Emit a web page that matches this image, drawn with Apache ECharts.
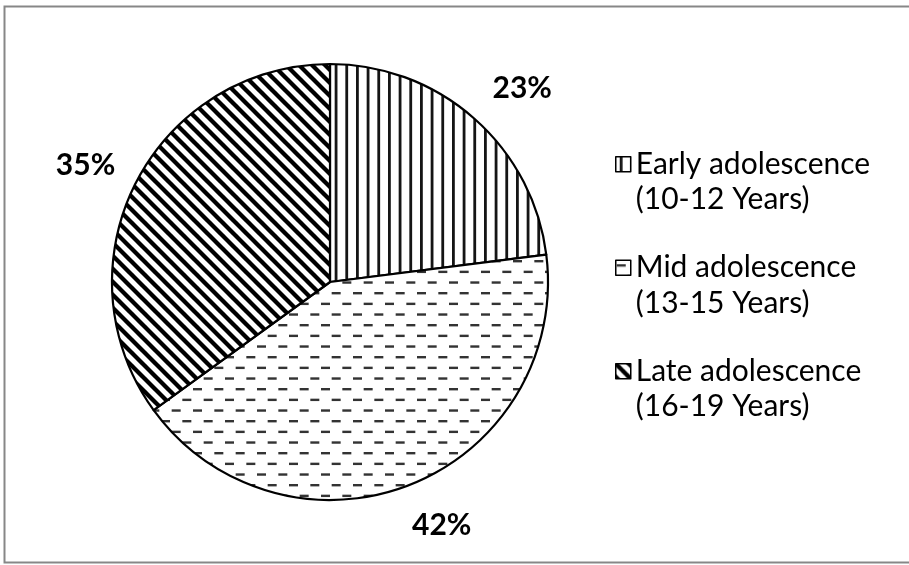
<!DOCTYPE html>
<html>
  <head>
    <meta charset="utf-8" />
    <title>Adolescence groups</title>
    <script src="https://cdn.jsdelivr.net/npm/echarts@6/dist/echarts.min.js"></script>
    <style>
      html, body { margin: 0; padding: 0; background: #fff; }
    </style>
  </head>
  <body>
    <div id="main" style="width: 909px;height:565px;"></div>

    <script type="text/javascript">
      // data
      var groups = ['Early adolescence\n(10-12 Years)', 'Mid adolescence\n(13-15 Years)', 'Late adolescence\n(16-19 Years)'];
      var values = [23, 42, 35];

      var cx = 330, cy = 282, radius = 218, labelR = 271;
      // small nudges so the % labels sit where the office "best fit" put them
      var labelNudge = [[13, 10], [12, -9], [-3, 6]];

      // hatch fills, like the office patterns
      function makeVert() {
        var c = document.createElement('canvas');
        c.width = 32; c.height = 32;
        var g = c.getContext('2d');
        g.fillStyle = '#fff'; g.fillRect(0, 0, 32, 32);
        g.fillStyle = '#151515';
        for (var i = 0; i < 3; i++) {
          g.fillRect(i * 32 / 3 + 4, 0, 2.8, 32);
        }
        return c;
      }
      function makeDash() {
        var c = document.createElement('canvas');
        c.width = 64; c.height = 64;
        var g = c.getContext('2d');
        g.fillStyle = '#fff'; g.fillRect(0, 0, 64, 64);
        g.fillStyle = '#333';
        var step = 64 / 3, row = 64 / 6;
        for (var i = 0; i < 6; i++) {
          var off = (i % 2) * step / 2;
          for (var j = 0; j < 3; j++) {
            g.fillRect(off + j * step + 1, i * row + 4, 9, 2.4);
          }
        }
        return c;
      }
      function makeDiag() {
        var s = 13;
        var c = document.createElement('canvas');
        c.width = s; c.height = s;
        var g = c.getContext('2d');
        g.fillStyle = '#fff'; g.fillRect(0, 0, s, s);
        g.strokeStyle = '#000';
        g.lineWidth = 4.3;
        for (var k = -1; k <= 1; k++) {
          g.beginPath();
          g.moveTo(k * s - 2, -2);
          g.lineTo(k * s + s + 2, s + 2);
          g.stroke();
        }
        return c;
      }

      var fills = [makeVert(), makeDash(), makeDiag()];
      var total = values.reduce(function (a, b) { return a + b; }, 0);

      var myPie = echarts.init(document.getElementById('main'));

      var option = {
        animation: false,
        graphic: [{
          type: 'rect',
          shape: { x: 4.5, y: 6.5, width: 920, height: 556 },
          style: { fill: 'none', stroke: '#878787', lineWidth: 2 },
          silent: true
        }],
        legend: {
          orient: 'vertical',
          left: 610,
          top: 106,
          icon: 'rect',
          itemWidth: 15,
          itemHeight: 15,
          itemGap: -3,
          itemStyle: { borderColor: '#000', borderWidth: 1.5 },
          // leading blank line so the swatch lines up with the first text line
          formatter: function (name) { return '\n' + name; },
          textStyle: {
            fontFamily: 'Lato',
            fontSize: 30,
            color: '#000',
            lineHeight: 35.5
          },
          data: groups
        },
        series: [{
          type: 'pie',
          center: [cx, cy],
          radius: radius,
          startAngle: 90,
          clockwise: true,
          avoidLabelOverlap: false,
          emphasis: { disabled: true },
          itemStyle: { borderColor: '#000', borderWidth: 2.2 },
          label: {
            show: true,
            position: 'outside',
            fontFamily: 'Lato',
            fontWeight: 'bold',
            fontSize: 30,
            color: '#000',
            formatter: function (p) { return Math.round(p.percent) + '%'; }
          },
          labelLine: { show: false },
          labelLayout: function (p) {
            var before = 0;
            for (var i = 0; i < p.dataIndex; i++) before += values[i];
            var mid = (before + values[p.dataIndex] / 2) / total * 2 * Math.PI;
            var n = labelNudge[p.dataIndex];
            return {
              x: cx + labelR * Math.sin(mid) + n[0],
              y: cy - labelR * Math.cos(mid) + n[1],
              align: 'center',
              verticalAlign: 'middle'
            };
          },
          data: groups.map(function (name, i) {
            return {
              name: name,
              value: values[i],
              itemStyle: { color: { image: fills[i], repeat: 'repeat' } }
            };
          })
        }]
      };

      myPie.setOption(option);
    </script>
  </body>
</html>
